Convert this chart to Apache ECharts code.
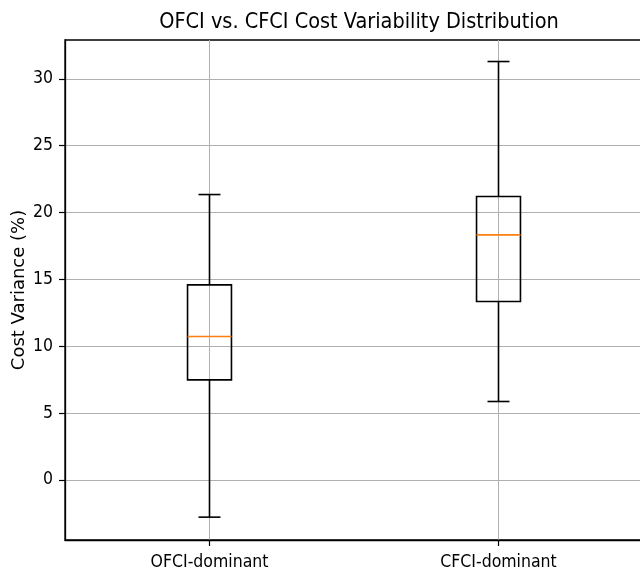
<!DOCTYPE html>
<html>
<head>
<meta charset="utf-8">
<script src="https://cdn.jsdelivr.net/npm/echarts@6/dist/echarts.min.js"></script>
<style>
html,body{margin:0;padding:0;background:#fff;}
#chart{width:640px;height:577px;}
</style>
</head>
<body>
<div id="chart"></div>
<script>
const categories = ['OFCI-dominant', 'CFCI-dominant'];
const whiskerLow = [-2.79, 5.86];
const q1 = [7.48, 13.34];
const median = [10.72, 18.32];
const q3 = [14.58, 21.19];
const whiskerHigh = [21.34, 31.29];
const yTicks = [0, 5, 10, 15, 20, 25, 30];

const FONT = '"DejaVu Sans Condensed", "DejaVu Sans", sans-serif';
const chart = echarts.init(document.getElementById('chart'), null, {renderer: 'canvas'});

const boxData = categories.map((c, i) => [i, whiskerLow[i], q1[i], median[i], q3[i], whiskerHigh[i]]);

const option = {
  backgroundColor: '#fff',
  animation: false,
  title: {
    text: 'OFCI vs. CFCI Cost Variability Distribution',
    left: 354,
    textAlign: 'center',
    top: 6,
    textStyle: {fontFamily: FONT, fontSize: 21.5, fontWeight: 'normal', color: '#000'}
  },
  grid: {
    left: 65, top: 40, width: 578, height: 500,
    outerBoundsMode: 'none',
    show: true, borderColor: '#000', borderWidth: 1.3, backgroundColor: 'transparent',
    containLabel: false
  },
  xAxis: {
    type: 'category',
    data: categories,
    boundaryGap: true,
    axisLine: {show: true, onZero: false, lineStyle: {color: '#000', width: 1.3}},
    axisTick: {show: true, alignWithLabel: true, length: 6, lineStyle: {color: '#000', width: 1.2}},
    axisLabel: {fontFamily: FONT, fontSize: 17.5, color: '#000', margin: 13},
    splitLine: {show: true, alignWithLabel: true, lineStyle: {color: '#b0b0b0', width: 1}}
  },
  yAxis: {
    type: 'value',
    min: -4.5,
    max: 32.9,
    splitNumber: 8,
    name: 'Cost Variance (%)',
    nameLocation: 'middle',
    nameGap: 37,
    nameMoveOverlap: false,
    nameTextStyle: {fontFamily: '"DejaVu Sans", sans-serif', fontSize: 18, color: '#000'},
    axisLine: {show: true, lineStyle: {color: '#000', width: 1.3}},
    axisTick: {show: true, length: 6, customValues: yTicks, lineStyle: {color: '#000', width: 1.2}},
    axisLabel: {fontFamily: FONT, fontSize: 17.5, color: '#000', margin: 12, customValues: yTicks},
    splitLine: {show: true, lineStyle: {color: '#b0b0b0', width: 1}}
  },
  series: [{
    type: 'custom',
    data: boxData,
    encode: {x: 0, y: [1, 2, 3, 4, 5]},
    renderItem: function (params, api) {
      const x = api.value(0);
      const lo = api.coord([x, api.value(1)]);
      const b1 = api.coord([x, api.value(2)]);
      const md = api.coord([x, api.value(3)]);
      const b3 = api.coord([x, api.value(4)]);
      const hi = api.coord([x, api.value(5)]);
      const band = api.size([1, 0])[0];
      const hw = band * 0.076;
      const cw = hw / 2;
      const cx = lo[0];
      const ls = {stroke: '#000', lineWidth: 1.6, fill: null};
      return {
        type: 'group',
        children: [
          {type: 'line', shape: {x1: cx, y1: lo[1], x2: cx, y2: b1[1]}, style: ls},
          {type: 'line', shape: {x1: cx, y1: b3[1], x2: cx, y2: hi[1]}, style: ls},
          {type: 'line', shape: {x1: cx - cw, y1: lo[1], x2: cx + cw, y2: lo[1]}, style: ls},
          {type: 'line', shape: {x1: cx - cw, y1: hi[1], x2: cx + cw, y2: hi[1]}, style: ls},
          {type: 'rect', shape: {x: cx - hw, y: b3[1], width: 2 * hw, height: b1[1] - b3[1]},
            style: {stroke: '#000', lineWidth: 1.6, fill: 'none'}},
          {type: 'line', shape: {x1: cx - hw, y1: md[1], x2: cx + hw, y2: md[1]},
            style: {stroke: '#ff7f0e', lineWidth: 1.6}}
        ]
      };
    }
  }]
};
chart.setOption(option);
</script>
</body>
</html>
